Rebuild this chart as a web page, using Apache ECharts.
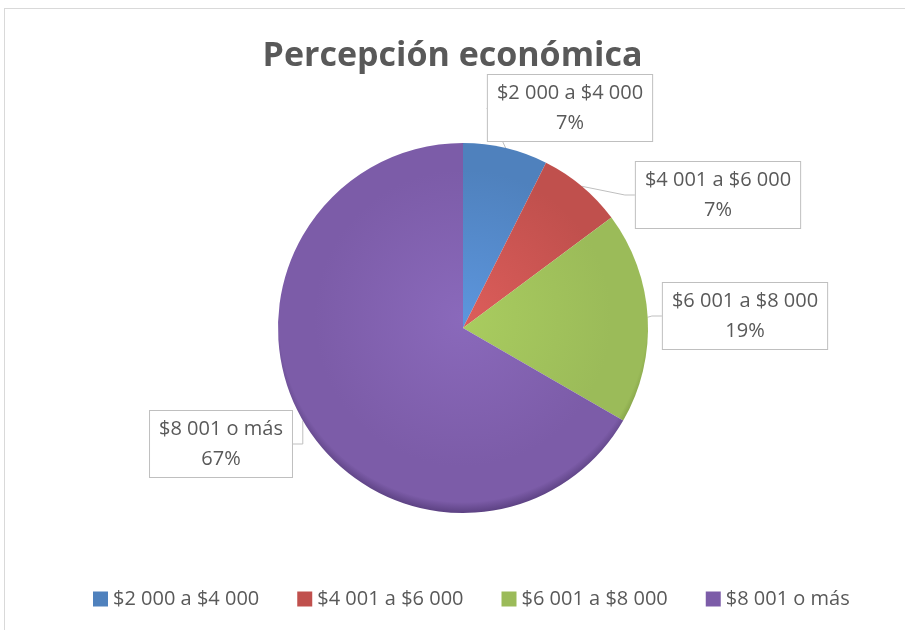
<!DOCTYPE html>
<html>
<head>
<meta charset="utf-8">
<script src="https://cdn.jsdelivr.net/npm/echarts@6/dist/echarts.min.js"></script>
<style>
  html, body { margin: 0; padding: 0; background: #fff; }
  #frame {
    position: absolute; left: 4px; top: 8px; width: 905px; height: 630px;
    border-top: 1px solid #d9d9d9; border-left: 1px solid #d9d9d9;
  }
  #chart { position: absolute; left: 0; top: 0; width: 905px; height: 630px; }
</style>
</head>
<body>
<div id="frame"></div>
<div id="chart"></div>
<script>
  // respondents per income range (percentages shown are computed by ECharts)
  const categories = ['$2 000 a $4 000', '$4 001 a $6 000', '$6 001 a $8 000', '$8 001 o más'];
  const counts = [2, 2, 5, 18];
  const baseColors = ['#4f81bd', '#c0504d', '#9bbb59', '#7c5ca8'];
  const lightColors = ['#5c95dc', '#dc5d5a', '#a9cc5f', '#8a69bb'];
  const darkColors = ['#36598a', '#8c3532', '#6f8a37', '#533a78'];
  // where each callout box sits (centre of box)
  const labelSpots = [[570, 108], [718, 195], [745, 316], [221, 444]];

  const chart = echarts.init(document.getElementById('chart'));

  chart.setOption({
    animation: false,
    title: {
      text: 'Percepción económica',
      left: 'center',
      top: 34,
      textStyle: {
        fontFamily: 'Open Sans',
        fontWeight: 'bold',
        fontSize: 34,
        color: '#595959'
      }
    },
    legend: {
      top: 584,
      left: 88,
      itemWidth: 15,
      itemHeight: 15,
      itemGap: 38,
      icon: 'rect',
      textStyle: {
        fontFamily: 'Open Sans',
        fontSize: 20,
        color: '#595959'
      },
      data: categories.map((c, i) => ({ name: c, itemStyle: { color: baseColors[i] } }))
    },
    series: [{
      type: 'pie',
      center: [463, 328],
      radius: [0, 185],
      startAngle: 90,
      clockwise: true,
      percentPrecision: 0,
      data: categories.map((c, i) => ({
        name: c,
        value: counts[i],
        itemStyle: {
          color: {
            type: 'radial', x: 463, y: 318, r: 198, global: true,
            colorStops: [
              {offset: 0, color: lightColors[i]},
              {offset: 0.75, color: baseColors[i]},
              {offset: 0.93, color: baseColors[i]},
              {offset: 1, color: darkColors[i]}
            ]
          }
        }
      })),
      itemStyle: { borderWidth: 0 },
      label: {
        show: true,
        formatter: '{b}\n{d}%',
        fontFamily: 'Open Sans',
        fontSize: 20,
        lineHeight: 30,
        color: '#595959',
        align: 'center',
        backgroundColor: '#fff',
        borderColor: '#bfbfbf',
        borderWidth: 1,
        padding: [3, 9, 3, 9]
      },
      labelLine: {
        show: true,
        length: 10,
        length2: 10,
        lineStyle: { color: '#bfbfbf', width: 1 }
      },
      labelLayout: function (params) {
        const p = labelSpots[params.dataIndex];
        return { x: p[0], y: p[1], align: 'center', verticalAlign: 'middle' };
      }
    }]
  });
</script>
</body>
</html>
